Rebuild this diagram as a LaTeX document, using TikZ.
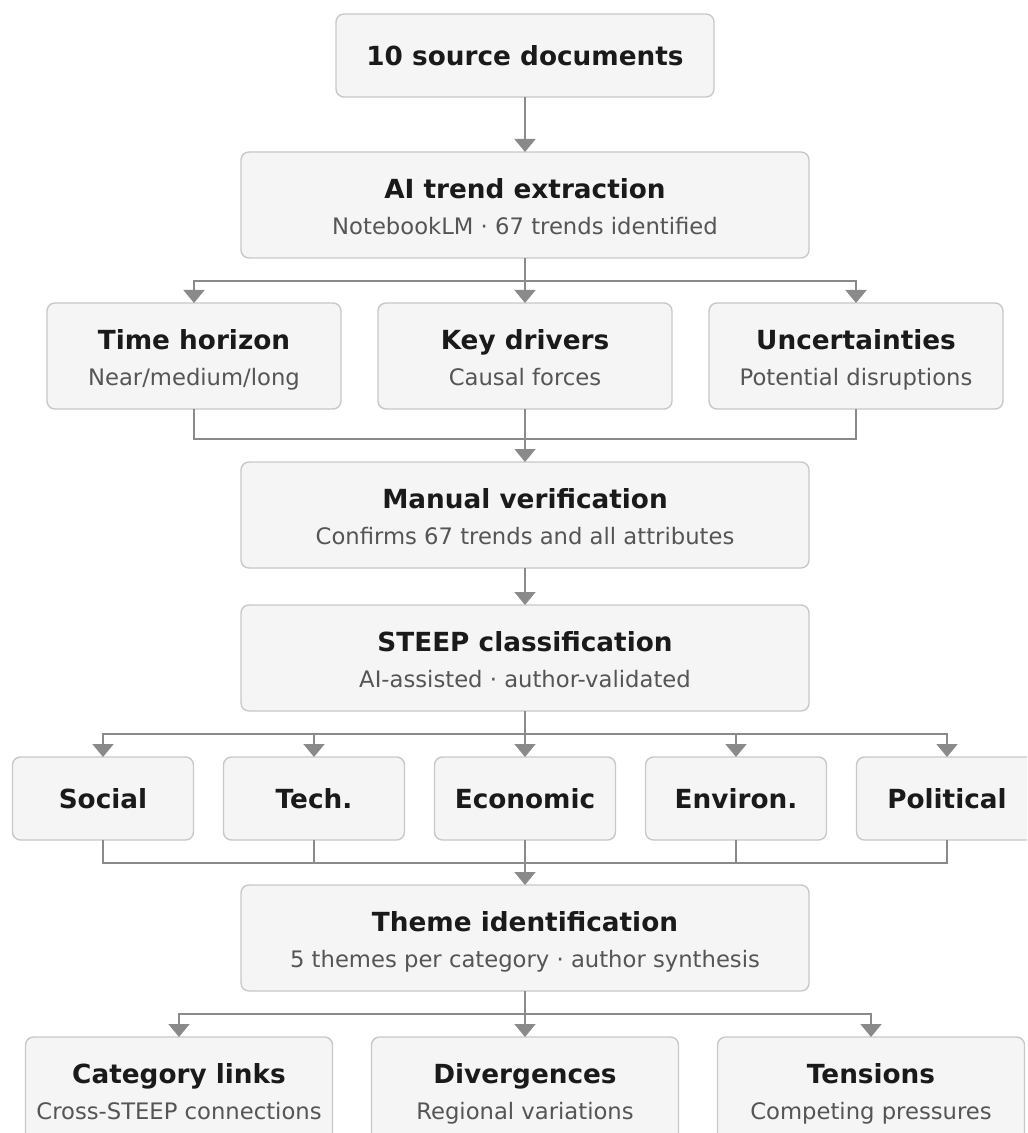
\documentclass[tikz,border=0pt]{standalone}
\usepackage{fontspec}
\setmainfont{DejaVu Sans}
\usepackage{xcolor}
\usepackage{tikz}
\usetikzlibrary{positioning, arrows.meta, calc}

\definecolor{boxfill}{HTML}{F5F5F5}
\definecolor{boxline}{HTML}{C8C8C8}
\definecolor{flowgray}{HTML}{8A8A8A}
\definecolor{titletext}{HTML}{1A1A1A}
\definecolor{subtext}{HTML}{555555}

\newcommand{\boxtitle}[1]{{\fontsize{13.15}{18}\selectfont\bfseries\color{titletext}\vphantom{h}#1}}
\newcommand{\boxsub}[1]{{\fontsize{11.35}{18}\selectfont\color{subtext}\vphantom{g}#1}}
\newcommand{\boxpair}[2]{\rule{0pt}{14pt}\boxtitle{#1}\\\boxsub{#2}}

\begin{document}
\begin{tikzpicture}[
    x=0.5pt, y=-0.5pt,
    >={Triangle[width=10.5pt, length=6.5pt]},
    every node/.style={font=\fontsize{11.3}{18}\selectfont},
    block/.style={draw=boxline, fill=boxfill, line width=0.7pt, rounded corners=4pt, align=center, inner sep=0pt, outer sep=0pt},
    widebox/.style={block, minimum width=284pt, minimum height=53pt},
    midbox/.style={block, minimum width=147pt, minimum height=53pt},
    catbox/.style={block, minimum width=90.5pt, minimum height=41.5pt},
    endbox/.style={block, minimum width=153.5pt, minimum height=53pt},
    link/.style={draw=flowgray, line width=0.9pt},
    arr/.style={link, ->, flowgray},
]

% frame of the picture (the lower and right boxes run off it)
\useasboundingbox (0,0) rectangle (1027,1133);
\clip (0,0) rectangle (1027,1133);

% === Main column ===
\node[block, minimum width=189pt, minimum height=41.5pt] (src) at (525,55.5) {\boxtitle{10 source documents}};
\node[widebox, below=27.5pt of src] (extract) {\boxpair{AI trend extraction}{NotebookLM · 67 trends identified}};

% --- attribute row ---
\node[midbox, below=22.5pt of extract] (drivers) {\boxpair{Key drivers}{Causal forces}};
\node[midbox, left=18.5pt of drivers] (horizon) {\boxpair{Time horizon}{Near/medium/long}};
\node[midbox, right=18.5pt of drivers] (uncert) {\boxpair{Uncertainties}{Potential disruptions}};

\node[widebox, below=26.5pt of drivers] (verify) {\boxpair{Manual verification}{Confirms 67 trends and all attributes}};
\node[widebox, below=18.5pt of verify] (steep) {\boxpair{STEEP classification}{AI-assisted · author-validated}};

% --- STEEP categories ---
\node[catbox, below=23pt of steep] (econ) {\boxtitle{Economic}};
\node[catbox, left=15pt of econ] (tech) {\boxtitle{Tech.}};
\node[catbox, left=15pt of tech] (social) {\boxtitle{Social}};
\node[catbox, right=15pt of econ] (environ) {\boxtitle{Environ.}};
\node[catbox, right=15pt of environ] (political) {\boxtitle{Political}};

\node[widebox, below=22.5pt of econ] (theme) {\boxpair{Theme identification}{5 themes per category · author synthesis}};

% --- synthesis row ---
\node[endbox, below=23pt of theme] (diverg) {\boxpair{Divergences}{Regional variations}};
\node[endbox, left=19.5pt of diverg] (links) {\boxpair{Category links}{Cross-STEEP connections}};
\node[endbox, right=19.5pt of diverg] (tension) {\boxpair{Tensions}{Competing pressures}};

% === Connectors ===
\draw[arr] (src) -- (extract);

\coordinate (fork1) at ([yshift=-11.5pt]extract.south);
\draw[link] (extract.south) -- (fork1);
\foreach \n in {horizon, drivers, uncert}
    \draw[arr] (fork1) -| (\n.north);

\coordinate (join1) at ([yshift=-15pt]drivers.south);
\foreach \n in {horizon, drivers, uncert}
    \draw[link] (\n.south) |- (join1);
\draw[arr] (join1) -- (verify.north);

\draw[arr] (verify) -- (steep);

\coordinate (fork2) at ([yshift=-11.5pt]steep.south);
\draw[link] (steep.south) -- (fork2);
\foreach \n in {social, tech, econ, environ, political}
    \draw[arr] (fork2) -| (\n.north);

\coordinate (join2) at ([yshift=-11.5pt]econ.south);
\foreach \n in {social, tech, econ, environ, political}
    \draw[link] (\n.south) |- (join2);
\draw[arr] (join2) -- (theme.north);

\coordinate (fork3) at ([yshift=-11.5pt]theme.south);
\draw[link] (theme.south) -- (fork3);
\foreach \n in {links, diverg, tension}
    \draw[arr] (fork3) -| (\n.north);

\end{tikzpicture}
\end{document}
